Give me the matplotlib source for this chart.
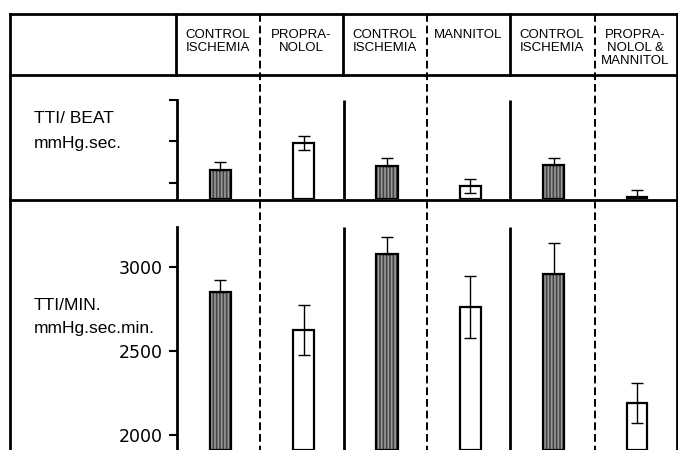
import matplotlib.pyplot as plt
from matplotlib.lines import Line2D

plt.rcParams['font.family'] = ['Liberation Sans', 'DejaVu Sans']
plt.rcParams['hatch.linewidth'] = 1.2

# data
groups = ["CONTROL\nISCHEMIA", "PROPRA-\nNOLOL", "CONTROL\nISCHEMIA",
          "MANNITOL", "CONTROL\nISCHEMIA", "PROPRA-\nNOLOL &\nMANNITOL"]
hatched = [True, False, True, False, True, False]
beat_mean = [23.1, 29.6, 24.1, 19.3, 24.3, 16.6]
beat_sd = [2.0, 1.7, 1.9, 1.7, 1.7, 1.7]
min_mean = [2851, 2625, 3077, 2762, 2958, 2190]
min_sd = [72, 150, 100, 185, 185, 118]
beat_ticks = [20, 30, 40]
min_ticks = [2000, 2500, 3000]

W, H = 678, 450
fig = plt.figure(figsize=(6.78, 4.5), dpi=100)


def fx(px):
    return px / W


def fy(py):
    return 1 - py / H


def fline(x0, y0, x1, y1, **kw):
    fig.add_artist(Line2D([fx(x0), fx(x1)], [fy(y0), fy(y1)],
                          transform=fig.transFigure, color='black', **kw))


# frame
lw_frame = 2.0
fline(10, 14, 677, 14, lw=lw_frame)
fline(10, 75, 677, 75, lw=lw_frame)
fline(10, 199.5, 677, 199.5, lw=lw_frame)
fline(10, 14, 10, 450, lw=lw_frame)
fline(676.5, 14, 676.5, 450, lw=lw_frame)
for x in [176, 343, 510]:
    fline(x, 14, x, 75, lw=lw_frame)
for x in [260, 427, 595]:
    fline(x, 14, x, 450, lw=1.4, linestyle=(0, (4, 2)))

# header labels
col_w = (677 - 176) / 6
for i, g in enumerate(groups):
    fig.text(fx(176 + col_w * (i + 0.5)), fy(28.5), g, ha='center', va='top',
             fontsize=9.5, linespacing=1.12)

# row labels
fig.text(fx(34), fy(111), "TTI/ BEAT", va='top', fontsize=12.5)
fig.text(fx(34), fy(136), "mmHg.sec.", va='top', fontsize=12.5)
fig.text(fx(34), fy(298), "TTI/MIN.", va='top', fontsize=12.5)
fig.text(fx(34), fy(321), "mmHg.sec.min.", va='top', fontsize=12.5)

ax1 = fig.add_axes([fx(177), fy(199), fx(677) - fx(177), fy(75) - fy(199)])
ax2 = fig.add_axes([fx(177), fy(450), fx(677) - fx(177), fy(200) - fy(450)])

x = range(len(groups))


def draw(ax, means, sds, ticks, ylim, top, labels):
    ax.set_xlim(-0.02, 6 - 0.02)
    ax.set_ylim(*ylim)
    ax.patch.set_alpha(0)
    for s in ['top', 'right', 'bottom']:
        ax.spines[s].set_visible(False)
    ax.spines['left'].set_linewidth(2)
    ax.spines['left'].set_bounds(ylim[0], top)
    ax.vlines([1.98, 3.98], ylim[0], top, color='black', lw=2)
    ax.set_xticks([])
    ax.set_yticks(ticks)
    if labels:
        ax.set_yticklabels([str(t) for t in ticks], fontsize=12.5,
                           family='DejaVu Sans')
    else:
        ax.set_yticklabels([])
    ax.tick_params(axis='y', length=6, width=1.5, pad=4)
    for i in x:
        c = i + 0.5
        if hatched[i]:
            ax.bar(c, means[i] - ylim[0], 0.26, bottom=ylim[0], color='#444444',
                   edgecolor='#999999', lw=0, hatch='|||||', zorder=3)
            ax.bar(c, means[i] - ylim[0], 0.26, bottom=ylim[0], fill=False,
                   edgecolor='black', lw=1.6, zorder=4)
            yerr = [[0], [sds[i]]]
        else:
            ax.bar(c, means[i] - ylim[0], 0.25, bottom=ylim[0], color='white',
                   edgecolor='black', lw=1.6, zorder=3)
            yerr = [[sds[i]], [sds[i]]]
        ax.errorbar(c, means[i], yerr=yerr, color='black', lw=1.0,
                    capsize=4, capthick=1.0, zorder=5)


draw(ax1, beat_mean, beat_sd, beat_ticks, (16.1, 46.0), 40, False)
draw(ax2, min_mean, min_sd, min_ticks, (1911, 3399), 3238, True)

fig.savefig('out.png', dpi=100, facecolor='white')
